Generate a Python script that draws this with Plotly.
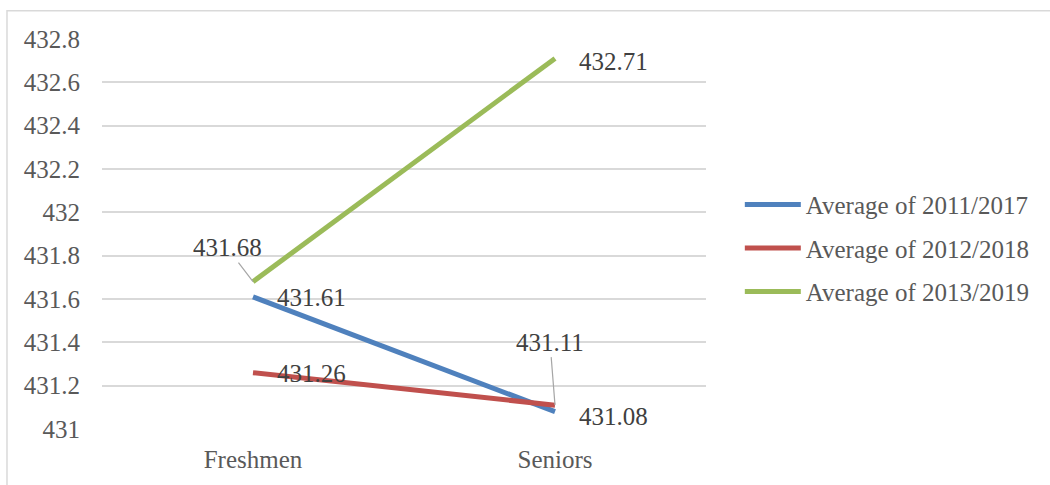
import plotly.graph_objects as go

categories = ["Freshmen", "Seniors"]
series_names = ["Average of 2011/2017", "Average of 2012/2018", "Average of 2013/2019"]
avg_2011_2017 = [431.61, 431.08]
avg_2012_2018 = [431.26, 431.11]
avg_2013_2019 = [431.68, 432.71]
y_ticks = [431, 431.2, 431.4, 431.6, 431.8, 432, 432.2, 432.4, 432.6, 432.8]

colors = ["#4F81BD", "#C0504D", "#9BBB59"]
series_values = [avg_2011_2017, avg_2012_2018, avg_2013_2019]

FONT = "Liberation Serif"
AXIS_GRAY = "#595959"
LABEL_GRAY = "#404040"

fig = go.Figure()
for name, vals, col in zip(series_names, series_values, colors):
    fig.add_trace(go.Scatter(
        x=categories, y=vals, name=name, mode="lines",
        line=dict(color=col, width=5),
        legendgroup=name,
        hoverinfo="skip",
    ))

# data labels: (series index, category index, placement, vertical nudge)
label_spec = [
    (0, 0, "right", -1), (1, 0, "right", -1), (2, 0, "leader_left", 0),
    (0, 1, "right", -5), (1, 1, "leader_up", 0), (2, 1, "right", -3),
]
for s, c, kind, dy in label_spec:
    v = series_values[s][c]
    txt = f"{v:.2f}"
    base = dict(x=categories[c], y=v, text=txt, xref="x", yref="y",
                font=dict(family=FONT, size=25, color=LABEL_GRAY))
    if kind == "right":
        fig.add_annotation(**base, showarrow=False, xanchor="left",
                           yanchor="middle", xshift=22, yshift=dy)
    elif kind == "leader_left":
        fig.add_annotation(**base, showarrow=True, arrowhead=0,
                           arrowwidth=1.2, arrowcolor="#A6A6A6",
                           ax=-26, ay=-34, standoff=0)
    else:
        fig.add_annotation(**base, showarrow=True, arrowhead=0,
                           arrowwidth=1.2, arrowcolor="#A6A6A6",
                           ax=-5, ay=-63, standoff=0)

# outer chart border
fig.add_shape(type="rect", xref="paper", yref="paper",
              x0=-0.1573, x1=1.6, y0=-0.2, y1=1.0725,
              line=dict(color="#D9D9D9", width=1.5), layer="below")

fig.update_layout(
    width=1050, height=485,
    margin=dict(l=102, r=344, t=38.5, b=56, pad=0),
    paper_bgcolor="white", plot_bgcolor="white",
    font=dict(family=FONT, size=25, color=AXIS_GRAY),
    showlegend=True,
    legend=dict(
        x=1.056, y=0.4635, xanchor="left", yanchor="middle",
        traceorder="grouped", tracegroupgap=8,
        itemwidth=56,
        font=dict(family=FONT, size=25, color=AXIS_GRAY),
        bgcolor="rgba(0,0,0,0)",
    ),
    xaxis=dict(
        type="category", range=[-0.5, 1.5],
        showgrid=False, zeroline=False, showline=False,
        ticks="", ticklabelstandoff=13,
        tickfont=dict(family=FONT, size=25, color=AXIS_GRAY),
    ),
    yaxis=dict(
        range=[431, 432.8], tickvals=y_ticks,
        showgrid=True, gridcolor="#D9D9D9", gridwidth=1.5,
        zeroline=False, showline=False,
        ticks="outside", ticklen=16, tickcolor="rgba(0,0,0,0)",
        tickfont=dict(family=FONT, size=25, color=AXIS_GRAY),
    ),
)

fig.write_html("out.html")
